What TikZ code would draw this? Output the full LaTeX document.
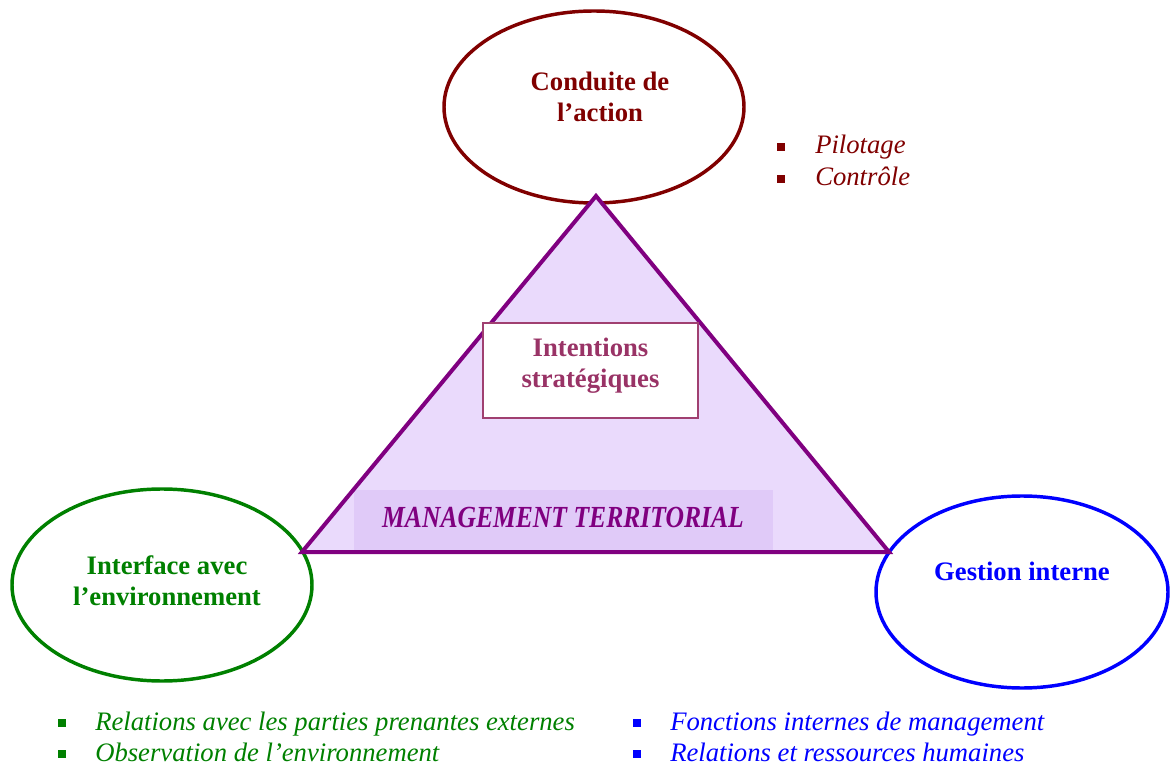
\documentclass[tikz,border=0pt]{standalone}
\usepackage{fontspec}
\setmainfont{Liberation Serif}
\usetikzlibrary{shapes.geometric}
\definecolor{cdark}{RGB}{128,0,0}
\definecolor{cgreen}{RGB}{0,128,0}
\definecolor{cblue}{RGB}{0,0,255}
\definecolor{cpurple}{RGB}{128,0,128}
\definecolor{cfill}{RGB}{234,218,252}
\definecolor{cband}{RGB}{224,202,248}
\definecolor{cbox}{RGB}{160,64,112}
\definecolor{cboxtext}{RGB}{153,51,102}
\tikzset{
  oval/.style={ellipse, draw, line width=2.6pt, minimum width=#1},
  ovaltext/.style={font=\fontsize{20}{23}\selectfont\bfseries, align=center},
  item/.style={anchor=base west, font=\fontsize{20}{22}\selectfont\itshape, inner sep=0},
  bul/.style={anchor=center, minimum size=5.5pt, inner sep=0, fill=#1},
}
\begin{document}
\begin{tikzpicture}[x=0.75pt,y=-0.75pt]
\useasboundingbox (0,0) rectangle (1171,766);
% triangle
\coordinate (apex) at (596,196);
\coordinate (bl) at (302,552);
\coordinate (br) at (889,552);
% ellipses
\node[oval=300pt*0.75, minimum height=192pt*0.75, draw=cdark] (top) at (594,107) {};
\node[oval=300pt*0.75, minimum height=192pt*0.75, draw=cgreen] (left) at (162,585) {};
\node[oval=292pt*0.75, minimum height=192pt*0.75, draw=cblue] (right) at (1022,592) {};
\fill[cfill] (apex) -- (bl) -- (br) -- cycle;
\fill[cband] (354,490) rectangle (773,552);
\draw[cpurple, line width=3pt, line join=miter] (apex) -- (bl) -- (br) -- cycle;
\node[ovaltext, text=cdark] (toptext) at (600,97) {Conduite de\\l’action};
\node[ovaltext, text=cgreen] (lefttext) at (167,581) {Interface avec\\l’environnement};
\node[ovaltext, text=cblue] (righttext) at (1022,571) {Gestion interne};
\node[draw=cbox, line width=1.2pt, fill=white, minimum width=215pt*0.75, minimum height=95pt*0.75, inner sep=0] (box) at (590.5,370.5) {};
\node[ovaltext, text=cboxtext] (boxtext) at (590.5,366) {Intentions\\stratégiques};
\node[font=\fontsize{23}{26}\selectfont\bfseries\itshape, text=cpurple] (mgmt) at (563,517) {\scalebox{0.835}[1]{MANAGEMENT TERRITORIAL}};
% top list
\node[bul=cdark] (b1) at (781,147) {};
\node[bul=cdark] (b2) at (781,179) {};
\node[item, text=cdark] (t1) at (815,154) {Pilotage};
\node[item, text=cdark] (t2) at (815,186) {Contrôle};
% left list
\node[bul=cgreen] (b3) at (62,723) {};
\node[bul=cgreen] (b4) at (62,754) {};
\node[item, text=cgreen] (t3) at (95,730) {Relations avec les parties prenantes externes};
\node[item, text=cgreen] (t4) at (95,761) {Observation de l’environnement};
% right list
\node[bul=cblue] (b5) at (637,723) {};
\node[bul=cblue] (b6) at (637,754) {};
\node[item, text=cblue] (t5) at (670,730) {Fonctions internes de management};
\node[item, text=cblue] (t6) at (670,761) {Relations et ressources humaines};
\end{tikzpicture}
\end{document}
